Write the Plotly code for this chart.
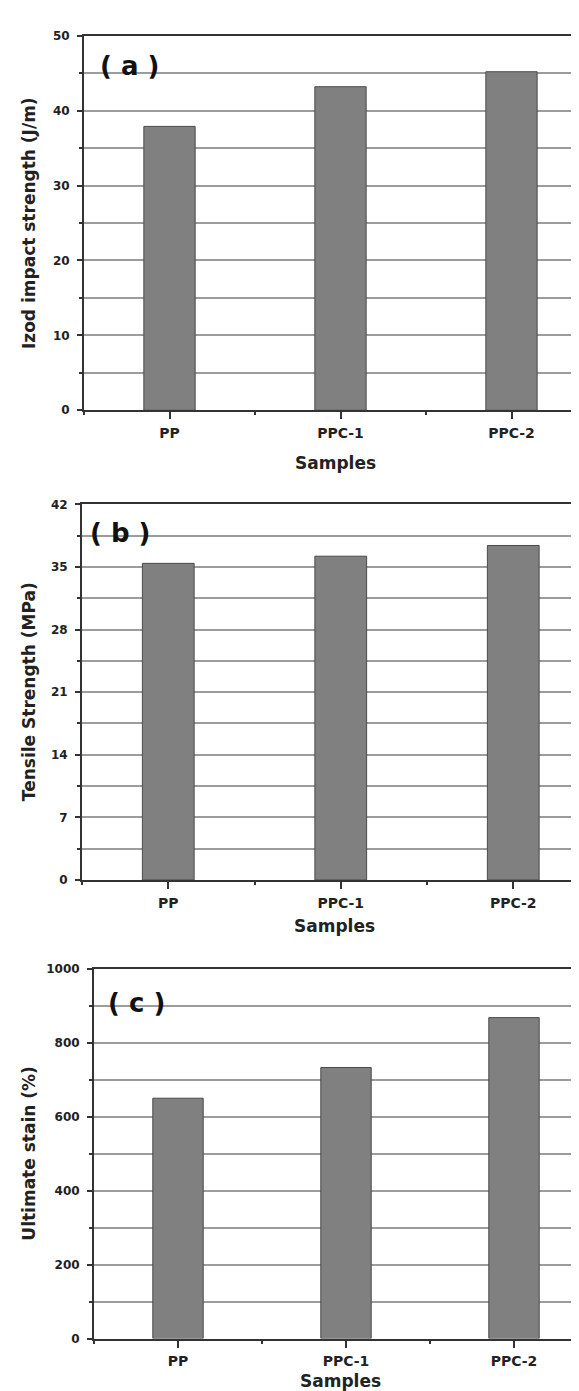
import plotly.graph_objects as go

# ---- data ----
samples = ["PP", "PPC-1", "PPC-2"]
izod_impact = [37.9, 43.2, 45.2]          # J/m
tensile_strength = [35.4, 36.2, 37.4]     # MPa
ultimate_stain = [650, 733, 868]          # %

panel_labels = ["( a )", "( b )", "( c )"]
y_titles = ["Izod impact strength (J/m)", "Tensile Strength (MPa)", "Ultimate stain (%)"]
x_title = "Samples"
y_ranges = [[0, 50], [0, 42], [0, 1000]]
y_dticks = [10, 7, 200]

W, H = 579, 1391
FONT = "DejaVu Sans"
TXT = "#222222"
AX = "#333333"
GRID = "#9c9c9c"

# panel geometry in pixels (left, top, bottom, category spacing)
panels = [
    dict(left=76, top=21, bottom=399.3, step=171),
    dict(left=74, top=494.3, bottom=873.8, step=172.5),
    dict(left=86, top=963.5, bottom=1337, step=168),
]
series = [izod_impact, tensile_strength, ultimate_stain]
label_pos = [(121, 52), (112, 523), (128, 998)]
xtitle_off = [53.5, 46.6, 42.5]

fig = go.Figure()
layout = dict(width=W, height=H, margin=dict(l=0, r=0, t=0, b=0),
              paper_bgcolor="white", plot_bgcolor="white", showlegend=False,
              font=dict(family=FONT, color=TXT))
annotations = []

xs = list(range(len(samples)))
for i, (p, vals) in enumerate(zip(panels, series)):
    sfx = "" if i == 0 else str(i + 1)
    fig.add_trace(go.Bar(
        x=xs, y=vals, width=0.30, xaxis="x" + sfx, yaxis="y" + sfx,
        marker=dict(color="#808080", line=dict(color="#4a4a4a", width=1)),
    ))
    xr = [-0.5, -0.5 + (W - p["left"]) / p["step"]]
    ydom = [1 - p["bottom"] / H, 1 - p["top"] / H]
    xdom = [p["left"] / W, 1.0]
    layout["xaxis" + sfx] = dict(
        domain=xdom, anchor="y" + sfx, range=xr,
        tickmode="array", tickvals=xs, ticktext=samples,
        ticks="outside", ticklen=7, tickwidth=2, tickcolor=AX,
        tickfont=dict(family=FONT, size=14, color=TXT, weight="bold"),
        ticklabelstandoff=2,
        showline=True, linecolor=AX, linewidth=2, mirror=True,
        showgrid=False, zeroline=False,
        minor=dict(tick0=-0.5, dtick=1, ticks="outside", ticklen=3,
                   tickwidth=2, tickcolor=AX, showgrid=False),
    )
    dt = y_dticks[i]
    layout["yaxis" + sfx] = dict(
        domain=ydom, anchor="x" + sfx, range=y_ranges[i],
        tick0=0, dtick=dt, ticks="outside", ticklen=5, tickwidth=2, tickcolor=AX,
        tickfont=dict(family=FONT, size=12, color=TXT, weight="bold"),
        ticklabelstandoff=5,
        showline=True, linecolor=AX, linewidth=2, mirror=False,
        showgrid=True, gridcolor=GRID, gridwidth=1.5, zeroline=False,
        minor=dict(tick0=0, dtick=dt / 2, ticks="outside", ticklen=3,
                   tickwidth=2, tickcolor=AX, showgrid=True,
                   gridcolor=GRID, gridwidth=1.5),
    )
    # y title
    annotations.append(dict(
        text=y_titles[i], xref="paper", yref="paper",
        x=21 / W, y=(ydom[0] + ydom[1]) / 2, textangle=-90,
        showarrow=False, xanchor="center", yanchor="middle",
        font=dict(family=FONT, size=17, color=TXT, weight="bold")))
    # x title
    annotations.append(dict(
        text=x_title, xref="paper", yref="paper",
        x=(xdom[0] + xdom[1]) / 2, y=1 - (p["bottom"] + xtitle_off[i]) / H,
        showarrow=False, xanchor="center", yanchor="middle",
        font=dict(family=FONT, size=17, color=TXT, weight="bold")))
    # panel label
    lx, ly = label_pos[i]
    annotations.append(dict(
        text=panel_labels[i], xref="paper", yref="paper",
        x=lx / W, y=1 - ly / H, showarrow=False,
        xanchor="center", yanchor="middle",
        font=dict(family=FONT, size=26, color="#111111", weight="bold")))

layout["annotations"] = annotations
fig.update_layout(**layout)
fig.write_html("out.html")
